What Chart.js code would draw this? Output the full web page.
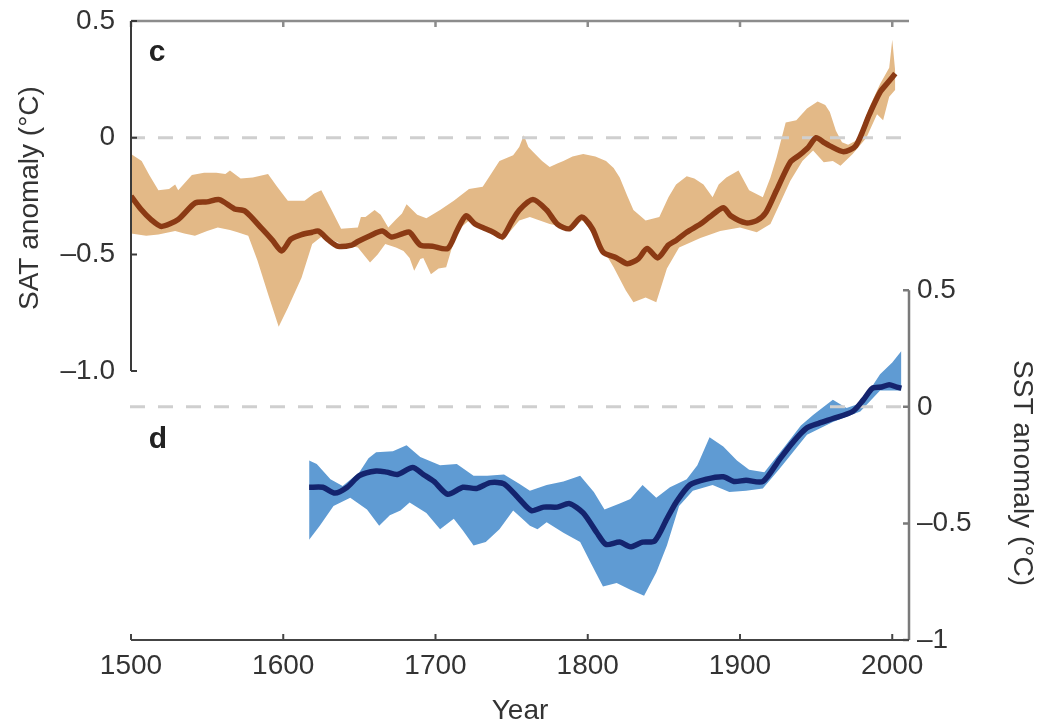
<!DOCTYPE html>
<html>
<head>
<meta charset="utf-8">
<script src="https://cdn.jsdelivr.net/npm/chart.js@4"></script>
<style>
  body { margin: 0; background: #fff; }
  canvas { display: block; }
</style>
</head>
<body>
<canvas id="anomalyChart" width="1043" height="722"></canvas>
<script>
// x axis ticks (years)
const yearTicks = [1500, 1600, 1700, 1800, 1900, 2000];
const satTicks = [-1, -0.5, 0, 0.5];
const sstTicks = [-1, -0.5, 0, 0.5];

// panel c: surface air temperature anomaly
const satMeanYears = [1500, 1507, 1513, 1520, 1531, 1542, 1550, 1558, 1568, 1575, 1586, 1593, 1599, 1605, 1612, 1619, 1623, 1630, 1636, 1645, 1649, 1657, 1665, 1671, 1679, 1683, 1690, 1698, 1708, 1714, 1720, 1726, 1731, 1738, 1744, 1750, 1755, 1764, 1773, 1780, 1788, 1796, 1803, 1810, 1819, 1826, 1833, 1839, 1846, 1853, 1858, 1865, 1874, 1880, 1889, 1894, 1904, 1911, 1917, 1924, 1933, 1939, 1945, 1950, 1955, 1959, 1968, 1976, 1985, 1992, 1997, 2002];
const satMean = [-0.25, -0.31, -0.35, -0.38, -0.35, -0.28, -0.275, -0.265, -0.305, -0.315, -0.39, -0.44, -0.485, -0.435, -0.415, -0.405, -0.40, -0.44, -0.465, -0.46, -0.445, -0.42, -0.40, -0.425, -0.41, -0.405, -0.46, -0.465, -0.475, -0.40, -0.335, -0.37, -0.385, -0.405, -0.425, -0.36, -0.31, -0.265, -0.31, -0.37, -0.39, -0.34, -0.39, -0.49, -0.515, -0.54, -0.52, -0.475, -0.515, -0.46, -0.44, -0.405, -0.37, -0.34, -0.30, -0.335, -0.365, -0.355, -0.32, -0.225, -0.105, -0.075, -0.04, 0.0, -0.02, -0.035, -0.06, -0.035, 0.10, 0.195, 0.235, 0.275];

const satUpperYears = [1500, 1507, 1512, 1518, 1525, 1529, 1531, 1540, 1548, 1556, 1562, 1565, 1572, 1580, 1590, 1596, 1603, 1614, 1620, 1625, 1631, 1638, 1649, 1651, 1654, 1660, 1664, 1669, 1674, 1678, 1681, 1688, 1694, 1703, 1712, 1722, 1731, 1737, 1742, 1751, 1755, 1758, 1761, 1764, 1770, 1775, 1780, 1784, 1790, 1797, 1805, 1812, 1817, 1821, 1826, 1830, 1838, 1847, 1853, 1858, 1865, 1870, 1876, 1882, 1886, 1891, 1899, 1906, 1915, 1920, 1924, 1930, 1937, 1944, 1951, 1956, 1959, 1963, 1967, 1971, 1977, 1985, 1992, 1998, 2000, 2002];
const satUpper = [-0.07, -0.10, -0.16, -0.225, -0.22, -0.20, -0.225, -0.16, -0.15, -0.15, -0.155, -0.14, -0.175, -0.17, -0.155, -0.21, -0.27, -0.27, -0.24, -0.225, -0.30, -0.39, -0.385, -0.34, -0.34, -0.31, -0.33, -0.385, -0.35, -0.325, -0.285, -0.33, -0.345, -0.31, -0.27, -0.22, -0.21, -0.15, -0.10, -0.075, -0.04, 0.01, -0.04, -0.06, -0.10, -0.125, -0.11, -0.10, -0.08, -0.07, -0.08, -0.10, -0.13, -0.17, -0.25, -0.31, -0.355, -0.34, -0.255, -0.20, -0.165, -0.175, -0.20, -0.255, -0.20, -0.17, -0.14, -0.225, -0.255, -0.17, -0.085, 0.065, 0.075, 0.125, 0.155, 0.14, 0.11, 0.03, -0.02, -0.03, -0.01, 0.13, 0.23, 0.30, 0.42, 0.28];

const satLowerYears = [1500, 1510, 1518, 1529, 1535, 1542, 1550, 1557, 1565, 1570, 1577, 1583, 1590, 1597, 1603, 1612, 1619, 1627, 1633, 1638, 1649, 1657, 1662, 1667, 1674, 1679, 1683, 1686, 1690, 1692, 1697, 1702, 1707, 1714, 1722, 1733, 1744, 1755, 1762, 1775, 1786, 1797, 1808, 1817, 1825, 1830, 1838, 1845, 1852, 1860, 1874, 1887, 1900, 1911, 1920, 1926, 1933, 1941, 1948, 1955, 1961, 1966, 1974, 1983, 1990, 1994, 1998, 2002];
const satLower = [-0.41, -0.42, -0.415, -0.40, -0.41, -0.42, -0.40, -0.385, -0.395, -0.405, -0.42, -0.525, -0.67, -0.81, -0.73, -0.60, -0.455, -0.415, -0.44, -0.455, -0.47, -0.535, -0.50, -0.455, -0.47, -0.485, -0.515, -0.57, -0.52, -0.515, -0.585, -0.56, -0.555, -0.40, -0.355, -0.39, -0.44, -0.355, -0.34, -0.37, -0.385, -0.355, -0.455, -0.555, -0.655, -0.705, -0.685, -0.705, -0.56, -0.47, -0.43, -0.40, -0.385, -0.405, -0.37, -0.285, -0.185, -0.10, -0.055, -0.105, -0.10, -0.12, -0.07, 0.0, 0.10, 0.075, 0.175, 0.205];

// panel d: sea surface temperature anomaly
const sstMeanYears = [1617, 1626, 1634, 1642, 1650, 1661, 1668, 1675, 1685, 1692, 1699, 1708, 1718, 1727, 1736, 1745, 1755, 1763, 1771, 1780, 1788, 1797, 1806, 1812, 1821, 1828, 1836, 1844, 1852, 1858, 1867, 1878, 1889, 1896, 1904, 1915, 1926, 1935, 1944, 1952, 1961, 1974, 1981, 1987, 1993, 1998, 2003, 2006];
const sstMean = [-0.345, -0.345, -0.37, -0.345, -0.295, -0.275, -0.28, -0.29, -0.26, -0.29, -0.32, -0.375, -0.345, -0.35, -0.325, -0.33, -0.395, -0.445, -0.43, -0.43, -0.415, -0.455, -0.54, -0.59, -0.58, -0.60, -0.58, -0.575, -0.48, -0.41, -0.335, -0.31, -0.30, -0.32, -0.315, -0.32, -0.225, -0.15, -0.09, -0.07, -0.05, -0.02, 0.03, 0.08, 0.085, 0.095, 0.085, 0.08];

const sstUpperYears = [1617, 1622, 1631, 1639, 1650, 1656, 1661, 1672, 1681, 1690, 1703, 1714, 1725, 1734, 1745, 1755, 1762, 1773, 1784, 1795, 1804, 1811, 1821, 1828, 1836, 1845, 1854, 1865, 1872, 1880, 1889, 1898, 1906, 1916, 1930, 1940, 1948, 1955, 1961, 1970, 1979, 1985, 1992, 2000, 2006];
const sstUpper = [-0.23, -0.245, -0.31, -0.34, -0.28, -0.22, -0.195, -0.19, -0.165, -0.215, -0.25, -0.245, -0.295, -0.295, -0.29, -0.33, -0.36, -0.335, -0.32, -0.295, -0.365, -0.44, -0.415, -0.395, -0.335, -0.39, -0.345, -0.31, -0.25, -0.13, -0.17, -0.23, -0.27, -0.28, -0.165, -0.08, -0.035, 0.0, 0.03, -0.005, 0.015, 0.07, 0.14, 0.19, 0.24];

const sstLowerYears = [1617, 1624, 1633, 1644, 1655, 1663, 1670, 1677, 1683, 1694, 1703, 1712, 1718, 1725, 1733, 1742, 1751, 1757, 1762, 1767, 1773, 1784, 1795, 1802, 1810, 1819, 1828, 1837, 1845, 1852, 1860, 1869, 1882, 1893, 1904, 1915, 1926, 1944, 1961, 1979, 1992, 2006];
const sstLower = [-0.57, -0.51, -0.425, -0.39, -0.44, -0.51, -0.465, -0.445, -0.41, -0.455, -0.525, -0.48, -0.53, -0.595, -0.58, -0.525, -0.445, -0.48, -0.51, -0.525, -0.495, -0.54, -0.58, -0.67, -0.77, -0.755, -0.785, -0.81, -0.71, -0.595, -0.425, -0.36, -0.335, -0.365, -0.36, -0.35, -0.265, -0.12, -0.065, -0.02, 0.07, 0.07];

const FONT = '"Liberation Sans", Arial, Helvetica, sans-serif';
const TEXT = '#333333';

function pts(xs, ys) {
  return xs.map((x, i) => ({ x: x, y: ys[i] }));
}

function fmtSat(v) {
  if (v === 0) return '0';
  return (v < 0 ? '\u2013' : '') + Math.abs(v).toFixed(1);
}
function fmtSst(v) {
  if (v === 0) return '0';
  if (v === -1) return '\u20131';
  return (v < 0 ? '\u2013' : '') + Math.abs(v).toFixed(1);
}

// no label overhang padding, so the plot area lands where the figure has it
function noPad(s) {
  s.paddingTop = 0; s.paddingBottom = 0; s.paddingLeft = 0; s.paddingRight = 0;
}

// frame, inward ticks, zero lines, titles and panel letters
const decorations = {
  id: 'decorations',
  beforeDatasetsDraw(chart) {
    const { ctx, chartArea } = chart;
    const s = chart.scales;
    ctx.save();
    ctx.strokeStyle = '#cfcfcf';
    ctx.lineWidth = 3;
    ctx.setLineDash([15, 13]);
    [s.ySat.getPixelForValue(0), s.ySst.getPixelForValue(0)].forEach(y => {
      ctx.beginPath();
      ctx.moveTo(chartArea.left - 1, y);
      ctx.lineTo(chartArea.right - 1, y);
      ctx.stroke();
    });
    ctx.restore();
  },
  afterDraw(chart) {
    const { ctx, chartArea } = chart;
    const { x, ySat, ySst } = chart.scales;
    const L = chartArea.left, R = chartArea.right, T = chartArea.top, B = chartArea.bottom;
    ctx.save();
    ctx.lineCap = 'butt';

    // top frame line
    ctx.strokeStyle = '#8c8c8c';
    ctx.lineWidth = 2.5;
    ctx.beginPath();
    ctx.moveTo(L, T); ctx.lineTo(R, T);
    yearTicks.forEach(v => {
      const px = x.getPixelForValue(v);
      ctx.moveTo(px, T); ctx.lineTo(px, T + 6);
    });
    ctx.stroke();

    // left axis (panel c)
    ctx.strokeStyle = '#3a3a3a';
    ctx.lineWidth = 2;
    ctx.beginPath();
    ctx.moveTo(L, ySat.getPixelForValue(0.5));
    ctx.lineTo(L, ySat.getPixelForValue(-1));
    satTicks.forEach(v => {
      const py = ySat.getPixelForValue(v);
      ctx.moveTo(L, py); ctx.lineTo(L + 6, py);
    });
    ctx.stroke();

    // right axis (panel d)
    ctx.strokeStyle = '#7a7a7a';
    ctx.lineWidth = 2.5;
    ctx.beginPath();
    ctx.moveTo(R, ySst.getPixelForValue(0.5));
    ctx.lineTo(R, ySst.getPixelForValue(-1));
    sstTicks.forEach(v => {
      const py = ySst.getPixelForValue(v);
      ctx.moveTo(R, py); ctx.lineTo(R - 6, py);
    });
    ctx.stroke();

    // bottom axis
    ctx.strokeStyle = '#444444';
    ctx.lineWidth = 2;
    ctx.beginPath();
    ctx.moveTo(L, B); ctx.lineTo(R, B);
    yearTicks.forEach(v => {
      const px = x.getPixelForValue(v);
      ctx.moveTo(px, B); ctx.lineTo(px, B - 6);
    });
    ctx.stroke();

    // axis titles
    ctx.fillStyle = TEXT;
    ctx.font = '28px ' + FONT;
    ctx.textAlign = 'center';
    ctx.textBaseline = 'middle';
    ctx.save();
    ctx.translate(30, 198);
    ctx.rotate(-Math.PI / 2);
    ctx.fillText('SAT anomaly (\u00B0C)', 0, 0);
    ctx.restore();
    ctx.save();
    ctx.translate(1022, 473);
    ctx.rotate(Math.PI / 2);
    ctx.fillText('SST anomaly (\u00B0C)', 0, 0);
    ctx.restore();

    // panel letters
    ctx.fillStyle = '#222222';
    ctx.font = 'bold 30px ' + FONT;
    ctx.fillText('c', 157, 53);
    ctx.fillText('d', 158, 440);
    ctx.restore();
  }
};

const ctx = document.getElementById('anomalyChart').getContext('2d');
new Chart(ctx, {
  type: 'line',
  data: {
    datasets: [
      {
        label: 'SAT upper',
        data: pts(satUpperYears, satUpper),
        yAxisID: 'ySat',
        borderWidth: 0,
        pointRadius: 0,
        backgroundColor: '#e3b987',
        fill: '+1',
        order: 2
      },
      {
        label: 'SAT lower',
        data: pts(satLowerYears, satLower),
        yAxisID: 'ySat',
        borderWidth: 0,
        pointRadius: 0,
        fill: false,
        order: 2
      },
      {
        label: 'SST upper',
        data: pts(sstUpperYears, sstUpper),
        yAxisID: 'ySst',
        borderWidth: 0,
        pointRadius: 0,
        backgroundColor: '#5f9bd3',
        fill: '+1',
        order: 2
      },
      {
        label: 'SST lower',
        data: pts(sstLowerYears, sstLower),
        yAxisID: 'ySst',
        borderWidth: 0,
        pointRadius: 0,
        fill: false,
        order: 2
      },
      {
        label: 'SAT',
        data: pts(satMeanYears, satMean),
        yAxisID: 'ySat',
        borderColor: '#8b3a14',
        borderWidth: 5.5,
        pointRadius: 0,
        tension: 0.25,
        fill: false,
        order: 0
      },
      {
        label: 'SST',
        data: pts(sstMeanYears, sstMean),
        yAxisID: 'ySst',
        borderColor: '#14246e',
        borderWidth: 5.5,
        pointRadius: 0,
        tension: 0.25,
        fill: false,
        order: 0
      }
    ]
  },
  options: {
    responsive: false,
    animation: false,
    layout: { padding: { top: 21, left: 0, right: 0, bottom: 0 } },
    plugins: {
      legend: { display: false },
      tooltip: { enabled: false },
      filler: { drawTime: 'beforeDatasetsDraw' }
    },
    scales: {
      x: {
        type: 'linear',
        position: 'bottom',
        min: 1500,
        max: 2011,
        afterBuildTicks: s => { s.ticks = yearTicks.map(v => ({ value: v })); },
        afterFit: s => { s.height = 82; noPad(s); },
        grid: { display: false, drawTicks: false },
        border: { display: false },
        ticks: {
          padding: 9,
          maxRotation: 0,
          autoSkip: false,
          color: TEXT,
          font: { family: FONT, size: 28 },
          callback: v => String(v)
        },
        title: {
          display: true,
          text: 'Year',
          color: TEXT,
          font: { family: FONT, size: 28, lineHeight: 0.8 },
          padding: 0
        }
      },
      ySat: {
        type: 'linear',
        position: 'left',
        min: -2.152,
        max: 0.5,
        afterBuildTicks: s => { s.ticks = satTicks.map(v => ({ value: v })); },
        afterFit: s => { s.width = 131; noPad(s); },
        grid: { display: false, drawTicks: false },
        border: { display: false },
        ticks: {
          padding: 16,
          color: TEXT,
          font: { family: FONT, size: 28 },
          callback: v => fmtSat(v)
        }
      },
      ySst: {
        type: 'linear',
        position: 'right',
        min: -1,
        max: 1.655,
        afterBuildTicks: s => { s.ticks = sstTicks.map(v => ({ value: v })); },
        afterFit: s => { s.width = 134; noPad(s); },
        grid: { display: false, drawTicks: false },
        border: { display: false },
        ticks: {
          padding: 8,
          color: TEXT,
          font: { family: FONT, size: 28 },
          callback: v => fmtSst(v)
        }
      }
    }
  },
  plugins: [decorations]
});
</script>
</body>
</html>
